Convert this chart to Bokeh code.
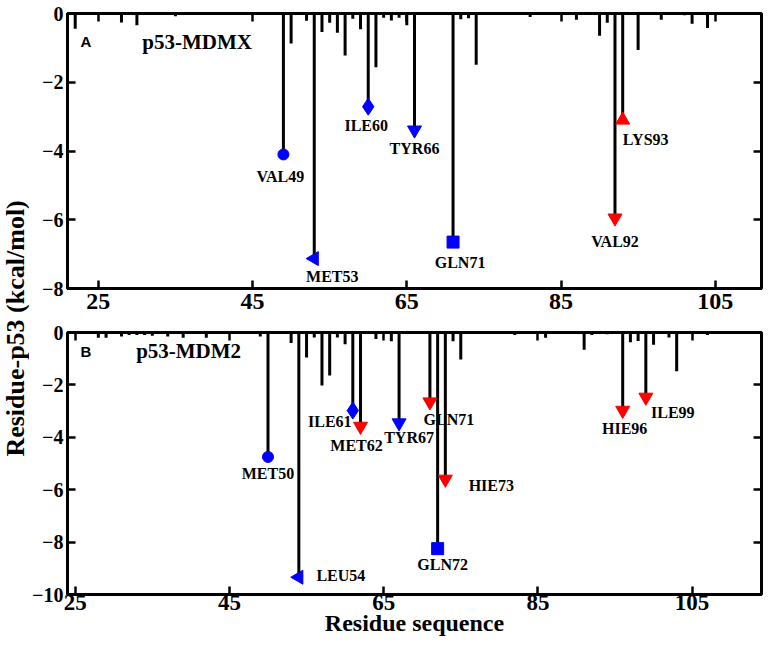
import math
from bokeh.plotting import figure
from bokeh.models import ColumnDataSource, LinearAxis, Range1d, FixedTicker
from bokeh.layouts import row, column
from bokeh.embed import file_html
from bokeh.resources import INLINE
from bokeh.core.properties import value

# ---------------- data ----------------
x_ticks = [25, 45, 65, 85, 105]
mdmx_y_ticks = [-8, -6, -4, -2, 0]
mdm2_y_ticks = [-10, -8, -6, -4, -2, 0]

# p53-MDMX per-residue decomposition (kcal/mol)
mdmx_res = [22, 28, 30, 35, 49, 50, 52, 53, 54, 55, 56, 57, 58, 59, 60, 61, 62, 63, 64, 65,
            66, 71, 72, 73, 74, 81, 87, 90, 91, 92, 93, 95, 98, 101, 102, 104]
mdmx_val = [-0.44, -0.26, -0.34, -0.08, -4.10, -0.87, -0.21, -7.13, -0.54, -0.27, -0.56, -1.22,
            -0.15, -0.46, -2.71, -1.56, -0.12, -0.20, -0.12, -0.34, -3.39, -6.65, -0.17, -0.14,
            -1.49, -0.10, -0.18, -0.65, -0.27, -5.95, -3.10, -1.06, -0.18, -0.05, -0.30, -0.42]
mdmx_hot_name = ["VAL49", "MET53", "ILE60", "TYR66", "GLN71", "VAL92", "LYS93"]
mdmx_hot_res = [49, 53, 60, 66, 71, 92, 93]
mdmx_hot_kind = ["circle", "left", "diamond", "down", "square", "down", "up"]
mdmx_hot_color = ["blue", "blue", "blue", "blue", "blue", "red", "red"]

# p53-MDM2 per-residue decomposition (kcal/mol)
mdm2_res = [28, 29, 31, 32, 33, 34, 35, 37, 39, 42, 49, 50, 53, 54, 55, 56, 57, 58, 59, 60,
            61, 62, 64, 66, 67, 71, 72, 73, 74, 75, 82, 86, 91, 92, 94, 96, 97, 98, 99, 100,
            102, 103, 107]
mdm2_val = [-0.20, -0.20, -0.15, -0.10, -0.10, -0.10, -0.12, -0.15, -0.20, -0.20, -0.15, -4.75,
            -0.40, -9.34, -0.95, -0.19, -2.02, -1.64, -0.19, -0.45, -2.98, -3.58, -0.25, -0.33,
            -3.45, -2.65, -8.25, -5.60, -0.33, -1.03, -0.10, -0.20, -0.66, -0.10, -0.07, -2.97,
            -0.37, -0.32, -2.47, -0.47, -0.19, -1.48, -0.10]
mdm2_hot_name = ["MET50", "LEU54", "ILE61", "MET62", "TYR67", "GLN71", "GLN72", "HIE73",
                 "HIE96", "ILE99"]
mdm2_hot_res = [50, 54, 61, 62, 67, 71, 72, 73, 96, 99]
mdm2_hot_kind = ["circle", "left", "diamond", "down", "down", "down", "square", "down",
                 "down", "down"]
mdm2_hot_color = ["blue", "blue", "blue", "red", "blue", "red", "blue", "red", "red", "red"]

# ---------------- styling ----------------
SERIF = "Liberation Serif"
COLORS = {"blue": "#0000FF", "red": "#FF0000"}
MARKERS = {  # kind -> (bokeh marker, angle, size)
    "circle": ("circle", 0.0, 11),
    "left": ("triangle", math.pi / 2, 14),
    "diamond": ("diamond", 0.0, 17),
    "down": ("inverted_triangle", 0.0, 14),
    "up": ("triangle", 0.0, 14),
    "square": ("square", 0.0, 12),
}
# label pixel offsets relative to the marker (dx, dy downwards)
mdmx_label_off = [(-3, 22), (18, 18), (-2, 19), (0, 18), (7, 20), (0, 23), (23, 19)]
mdm2_label_off = [(0, 17), (42, -2), (-23, 11), (-4, 19), (10, 15), (19, 18), (5, 16),
                  (46, 6), (2, 18), (27, 15)]

LABEL_W = 29
FIG_W = 734


def style_axis(ax, show_labels, font_size):
    ax.axis_line_width = 3
    ax.axis_line_color = "black"
    ax.major_tick_in = 8
    ax.major_tick_out = 0
    ax.major_tick_line_width = 2.5
    ax.major_tick_line_color = "black"
    ax.minor_tick_line_color = None
    if show_labels:
        ax.major_label_text_font = SERIF
        ax.major_label_text_font_style = "bold"
        ax.major_label_text_font_size = font_size
        ax.major_label_text_color = "black"
    else:
        ax.major_label_overrides = {t: "" for t in ax.ticker.ticks}
        ax.major_label_text_font_size = "1px"
        ax.major_label_standoff = 0


def make_panel(res, val, hot_name, hot_res, hot_kind, hot_color, offsets, xr, yr, yticks,
               height, b_top, b_bottom, letter, title, letter_pos, title_pos, xlabel=None,
               x_standoff=4, x_font="22px"):
    p = figure(width=FIG_W, height=height, x_range=Range1d(*xr), y_range=Range1d(*yr),
               output_backend="svg", toolbar_location=None,
               min_border_left=31, min_border_right=2, min_border_top=b_top,
               min_border_bottom=b_bottom)
    p.xgrid.visible = False
    p.ygrid.visible = False
    p.outline_line_color = "black"
    p.outline_line_width = 3
    p.background_fill_color = "white"
    p.border_fill_color = "white"

    p.xaxis.ticker = FixedTicker(ticks=x_ticks)
    p.yaxis.ticker = FixedTicker(ticks=yticks)
    style_axis(p.xaxis[0], True, x_font)
    style_axis(p.yaxis[0], True, "20px")
    p.xaxis.major_label_standoff = x_standoff
    p.yaxis.major_label_standoff = 4
    if xlabel:
        p.xaxis.axis_label = xlabel
        p.xaxis.axis_label_text_font = SERIF
        p.xaxis.axis_label_text_font_style = "bold"
        p.xaxis.axis_label_text_font_size = "24px"
        p.xaxis.axis_label_text_color = "black"
        p.xaxis.axis_label_standoff = -3

    # mirrored tick marks on the top and right edges of the frame
    top = LinearAxis(ticker=FixedTicker(ticks=x_ticks), fixed_location=yr[1])
    style_axis(top, False, "1px")
    p.add_layout(top, "above")
    right = LinearAxis(ticker=FixedTicker(ticks=yticks), fixed_location=xr[1])
    style_axis(right, False, "1px")
    p.add_layout(right, "right")

    # stems
    stems = ColumnDataSource(dict(res=res, val=val, zero=[0] * len(res)))
    p.segment(x0="res", y0="zero", x1="res", y1="val", source=stems,
              line_width=3, line_color="black", line_cap="butt")

    # highlighted residues
    lookup = dict(zip(res, val))
    hot_val = [lookup[r] for r in hot_res]
    src = ColumnDataSource(dict(
        x=hot_res, y=hot_val, name=hot_name,
        marker=[MARKERS[k][0] for k in hot_kind],
        angle=[MARKERS[k][1] for k in hot_kind],
        size=[MARKERS[k][2] for k in hot_kind],
        color=[COLORS[c] for c in hot_color],
        dx=[o[0] for o in offsets], dy=[o[1] for o in offsets],
    ))
    p.scatter(x="x", y="y", marker="marker", angle="angle", size="size",
              fill_color="color", line_color="color", source=src)
    p.text(x="x", y="y", text="name", x_offset="dx", y_offset="dy", source=src,
           text_font=value(SERIF), text_font_style="bold", text_font_size="16px",
           text_color="black", text_align="center", text_baseline="middle")

    # panel letter and title
    p.text(x=[letter_pos[0]], y=[letter_pos[1]], text=[letter],
           text_font=value("Liberation Sans"), text_font_style="bold",
           text_font_size="15px", text_color="black",
           text_align="center", text_baseline="middle")
    p.text(x=[title_pos[0]], y=[title_pos[1]], text=[title],
           text_font=value(SERIF), text_font_style="bold",
           text_font_size="21px", text_color="black",
           text_align="left", text_baseline="middle")
    return p


p1 = make_panel(mdmx_res, mdmx_val, mdmx_hot_name, mdmx_hot_res, mdmx_hot_kind,
                mdmx_hot_color, mdmx_label_off, (21, 111), (-8, 0), mdmx_y_ticks,
                height=321, b_top=13, b_bottom=33, letter="A", title="p53-MDMX",
                letter_pos=(23.4, -0.8), title_pos=(30.7, -0.82), x_standoff=5,
                x_font="24px")
p2 = make_panel(mdm2_res, mdm2_val, mdm2_hot_name, mdm2_hot_res, mdm2_hot_kind,
                mdm2_hot_color, mdm2_label_off, (24, 114), (-10, 0), mdm2_y_ticks,
                height=317, b_top=11, b_bottom=42, letter="B", title="p53-MDM2",
                letter_pos=(26.4, -0.72), title_pos=(32.9, -0.72),
                xlabel="Residue sequence", x_standoff=0, x_font="23px")

# shared y-axis title
lab = figure(width=LABEL_W, height=638, x_range=Range1d(0, 1), y_range=Range1d(0, 1),
             x_axis_type=None, y_axis_type=None, output_backend="svg",
             toolbar_location=None, min_border=0)
lab.outline_line_color = None
lab.xgrid.visible = False
lab.ygrid.visible = False
lab.text(x=[0.5], y=[0.486], text=["Residue-p53 (kcal/mol)"], angle=math.pi / 2,
         text_font=value(SERIF), text_font_style="bold", text_font_size="26px",
         text_color="black", text_align="center", text_baseline="middle")

layout = row(lab, column(p1, p2, spacing=0), spacing=0)
open("out.html", "w").write(file_html(layout, INLINE))
